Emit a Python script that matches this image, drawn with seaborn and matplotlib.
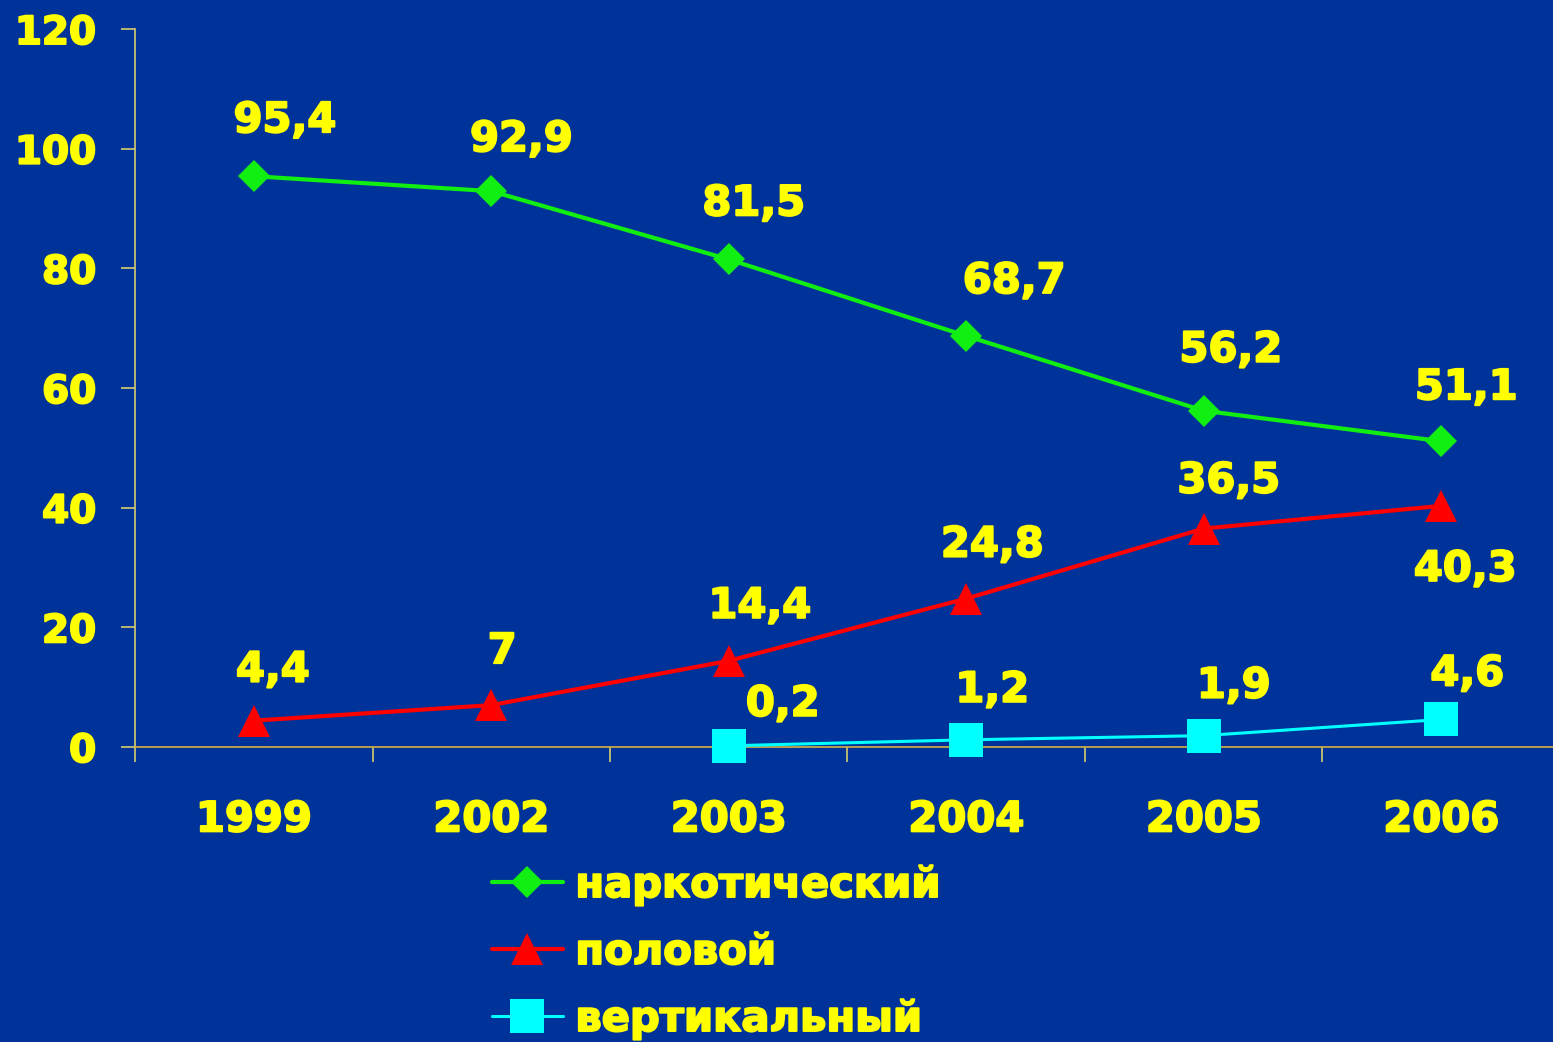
import matplotlib
matplotlib.use("Agg")
import matplotlib.pyplot as plt
import matplotlib.patheffects as pe
import numpy as np
import pandas as pd
import seaborn as sns
from matplotlib.lines import Line2D

# ---------------- data ----------------
years = ["1999", "2002", "2003", "2004", "2005", "2006"]
narco_years = ["1999", "2002", "2003", "2004", "2005", "2006"]
narco = [95.4, 92.9, 81.5, 68.7, 56.2, 51.1]
sexual_years = ["1999", "2002", "2003", "2004", "2005", "2006"]
sexual = [4.4, 7.0, 14.4, 24.8, 36.5, 40.3]
vertical_years = ["2003", "2004", "2005", "2006"]
vertical = [0.2, 1.2, 1.9, 4.6]
series_names = ["наркотический", "половой", "вертикальный"]
y_ticks = [0, 20, 40, 60, 80, 100, 120]

# ---------------- style ----------------
BG = "#003399"
YELLOW = "#FFFF00"
AXIS_COL = "#D8CC70"
colors = ["#11EE11", "#FF0000", "#00FFFF"]
markers = ["D", "^", "s"]
msizes = [16, 23, 25]
lwidths = [3.0, 3.0, 2.2]
# label offsets in pixels (dx, dy) for each point
offsets = [
    [(31, 56), (30, 52), (25, 56), (48, 55), (27, 61), (25, 54)],
    [(19, 51), (11, 54), (31, 55), (26, 54), (25, 48), (24, -63)],
    [(54, 42), (26, 50), (30, 50), (26, 46)],
]

sns.set_style("white")
plt.rcParams["font.family"] = ["DejaVu Sans"]
plt.rcParams["font.weight"] = "bold"

W, H = 1553, 1042
fig = plt.figure(figsize=(W / 100, H / 100), dpi=100, facecolor=BG)
ax = fig.add_axes([135 / W, 1 - 747 / H, (W - 135) / W, 718 / H])
ax.set_facecolor(BG)

heavy = [pe.withStroke(linewidth=1.4, foreground=YELLOW)]

all_years = [narco_years, sexual_years, vertical_years]
all_vals = [narco, sexual, vertical]

FS = 30
FS_Y = 28
for i, name in enumerate(series_names):
    df = pd.DataFrame({
        "pos": [years.index(y) for y in all_years[i]],
        "value": all_vals[i],
    })
    sns.lineplot(data=df, x="pos", y="value", ax=ax, color=colors[i],
                 marker=markers[i], markersize=msizes[i], markeredgewidth=0,
                 linewidth=lwidths[i], clip_on=False, legend=False,
                 zorder=5 - i)
    for (x, v, (dx, dy)) in zip(df["pos"], df["value"], offsets[i]):
        lab = f"{v:g}".replace(".", ",")
        ax.annotate(lab, (x, v), xytext=(dx, dy), textcoords="offset pixels",
                    ha="center", va="center", color=YELLOW, fontsize=FS,
                    fontweight="bold", annotation_clip=False, zorder=10,
                    path_effects=heavy)

ax.set_xlim(-0.5, -0.5 + (W - 135) / 237.5)
ax.set_ylim(0, 120)
ax.set_xlabel("")
ax.set_ylabel("")

ax.set_yticks(y_ticks)
ax.set_yticklabels([str(t) for t in y_ticks])
ax.set_xticks(range(len(years)))
ax.set_xticklabels(years)
ax.set_xticks(np.arange(-0.5, len(years) - 1, 1.0), minor=True)

ax.tick_params(axis="y", which="major", length=10, width=1.2, color=AXIS_COL,
               pad=18, labelsize=FS_Y, labelcolor=YELLOW, left=True)
ax.tick_params(axis="x", which="major", length=0, pad=37, labelsize=FS,
               labelcolor=YELLOW, bottom=True)
ax.tick_params(axis="x", which="minor", length=11, width=1.2, color=AXIS_COL,
               bottom=True)
for lab in ax.get_xticklabels() + ax.get_yticklabels():
    lab.set_fontweight("bold")
    lab.set_path_effects(heavy)

for s in ["top", "right"]:
    ax.spines[s].set_visible(False)
ax.spines["left"].set_color(AXIS_COL)
ax.spines["left"].set_linewidth(1.2)
ax.spines["bottom"].set_color("#D4B040")
ax.spines["bottom"].set_linewidth(1.2)
ax.grid(False)

handles = [Line2D([], [], color=colors[i], marker=markers[i],
                  markersize=msizes[i], markeredgewidth=0, linewidth=lwidths[i])
           for i in range(3)]
leg = fig.legend(handles, series_names, loc="upper left",
                 bbox_to_anchor=(492 / W, 1 - 864 / H), frameon=False,
                 prop={"size": FS, "weight": "bold"}, labelcolor=YELLOW,
                 handlelength=1.7, handletextpad=0.3, labelspacing=0.6,
                 borderpad=0, borderaxespad=0)
for t in leg.get_texts():
    t.set_path_effects(heavy)

fig.savefig("out.png", dpi=100, facecolor=BG)
